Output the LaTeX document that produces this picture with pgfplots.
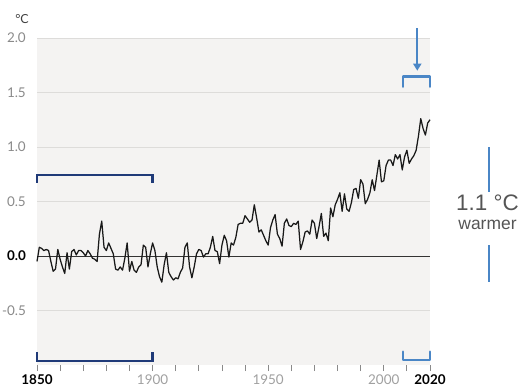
\documentclass[border=0pt]{standalone}
\usepackage{pgfplots}
\pgfplotsset{compat=1.18}
\usepackage{pgfplotstable}
\usetikzlibrary{arrows.meta}
\usepackage{fontspec}
\setmainfont{Lato}
\newfontfamily\arial{Liberation Sans}
\definecolor{bggray}{HTML}{F4F3F2}
\definecolor{gridgray}{HTML}{DDDCDA}
\definecolor{labgray}{HTML}{8A8A8A}
\definecolor{xlabgray}{HTML}{A0A0A0}
\definecolor{navy}{HTML}{1F3A78}
\definecolor{lblue}{HTML}{4A86C6}
\definecolor{txtgray}{HTML}{555555}
\pgfplotstableread{
year anom
1850 -0.05
1851 0.08
1852 0.07
1853 0.05
1854 0.06
1855 0.05
1856 -0.05
1857 -0.14
1858 -0.12
1859 0.06
1860 -0.03
1861 -0.10
1862 -0.16
1863 0.03
1864 -0.12
1865 0.04
1866 0.06
1867 0.01
1868 0.05
1869 0.05
1870 0.03
1871 0.00
1872 0.05
1873 0.02
1874 -0.02
1875 -0.03
1876 -0.05
1877 0.20
1878 0.32
1879 0.08
1880 0.05
1881 0.12
1882 0.07
1883 0.02
1884 -0.12
1885 -0.13
1886 -0.10
1887 -0.13
1888 -0.02
1889 0.12
1890 -0.14
1891 -0.05
1892 -0.13
1893 -0.15
1894 -0.10
1895 -0.08
1896 0.10
1897 0.08
1898 -0.10
1899 0.02
1900 0.12
1901 0.05
1902 -0.10
1903 -0.19
1904 -0.24
1905 -0.08
1906 0.03
1907 -0.15
1908 -0.19
1909 -0.22
1910 -0.20
1911 -0.21
1912 -0.15
1913 -0.11
1914 0.08
1915 0.12
1916 -0.10
1917 -0.20
1918 -0.10
1919 0.02
1920 0.06
1921 0.05
1922 -0.01
1923 0.02
1924 0.02
1925 0.08
1926 0.18
1927 0.05
1928 0.04
1929 -0.07
1930 0.10
1931 0.19
1932 0.14
1933 -0.01
1934 0.12
1935 0.10
1936 0.17
1937 0.29
1938 0.30
1939 0.30
1940 0.37
1941 0.34
1942 0.31
1943 0.33
1944 0.47
1945 0.35
1946 0.22
1947 0.24
1948 0.19
1949 0.14
1950 0.10
1951 0.26
1952 0.33
1953 0.38
1954 0.20
1955 0.16
1956 0.09
1957 0.30
1958 0.34
1959 0.28
1960 0.27
1961 0.30
1962 0.29
1963 0.32
1964 0.06
1965 0.13
1966 0.22
1967 0.23
1968 0.20
1969 0.33
1970 0.30
1971 0.16
1972 0.27
1973 0.39
1974 0.18
1975 0.21
1976 0.14
1977 0.44
1978 0.36
1979 0.47
1980 0.52
1981 0.58
1982 0.41
1983 0.57
1984 0.43
1985 0.41
1986 0.49
1987 0.61
1988 0.62
1989 0.53
1990 0.70
1991 0.66
1992 0.48
1993 0.52
1994 0.58
1995 0.70
1996 0.60
1997 0.74
1998 0.88
1999 0.68
2000 0.69
2001 0.83
2002 0.88
2003 0.88
2004 0.83
2005 0.93
2006 0.89
2007 0.93
2008 0.79
2009 0.91
2010 0.97
2011 0.85
2012 0.89
2013 0.92
2014 0.97
2015 1.10
2016 1.26
2017 1.17
2018 1.11
2019 1.22
2020 1.25
}\temps
\begin{document}
\begin{tikzpicture}[x=1bp,y=1bp]
\path[use as bounding box] (0,0) rectangle (522,387);
\begin{axis}[
  at={(37bp,22bp)}, anchor=south west,
  width=393bp, height=327bp, scale only axis,
  xmin=1850, xmax=2020, ymin=-1.0, ymax=2.0,
  clip=false,
  axis background/.style={fill=bggray},
  axis line style={draw=none},
  xtick={1850,1900,1950,2000,2020},
  xticklabels={\textcolor{black}{\textbf{1850}},1900,1950,2000,\textcolor{black}{\textbf{2020}}},
  minor xtick={1860,1870,1880,1890,1910,1920,1930,1940,1960,1970,1980,1990,2010},
  xtick pos=bottom, ytick pos=left,
  tick align=outside,
  major tick length=6bp, minor tick length=6bp,
  xtick style={labgray, line width=0.8bp},
  ytick style={draw=none},
  ytick={-0.5,0,0.5,1,1.5,2},
  yticklabels={-0.5,\textcolor{black}{\textbf{0.0}},0.5,1.0,1.5,2.0},
  ymajorgrids,
  major grid style={gridgray, line width=0.9bp},
  yticklabel style={text=labgray, font=\fontsize{13.5}{14}\selectfont, inner sep=0pt, anchor=east, xshift=-5bp},
  xticklabel style={text=xlabgray, font=\fontsize{13.5}{14}\selectfont, inner sep=0pt, anchor=south, yshift=-14bp},
]
\draw[black!80, line width=0.8bp] (axis cs:1850,0) -- (axis cs:2020,0);
\addplot[black!90, line width=1.25bp, line join=round, mark=none] table[x=year,y=anom] {\temps};
% navy brackets
\draw[navy, line width=2.2bp, line join=miter] (axis cs:1850,0.67) -- (axis cs:1850,0.743) -- (axis cs:1900,0.743) -- (axis cs:1900,0.67);
\draw[navy, line width=2.2bp, line join=miter] (axis cs:1850,-0.88) -- (axis cs:1850,-0.963) -- (axis cs:1900,-0.963) -- (axis cs:1900,-0.88);
% blue brackets
\draw[lblue, line width=2.6bp, line join=round, line cap=round] (axis cs:2008.4,1.553) -- (axis cs:2008.4,1.645) -- (axis cs:2020,1.645) -- (axis cs:2020,1.553);
\draw[lblue, line width=2.6bp, line join=round, line cap=round] (axis cs:2008.4,-0.878) -- (axis cs:2008.4,-0.954) -- (axis cs:2020,-0.954) -- (axis cs:2020,-0.878);
\draw[lblue, line width=2.4bp, -{Triangle[length=7bp,width=8bp]}] (axis cs:2014.5,2.09) -- (axis cs:2014.5,1.70);
\end{axis}
\node[text=black!75, inner sep=0pt, font=\fontsize{12.5}{13}\selectfont] at (22,367.5) {°C};
\draw[lblue, line width=2bp] (489,240) -- (489,195);
\draw[lblue, line width=2bp] (489,142) -- (489,105);
\node[text=txtgray, inner sep=0pt, font=\arial\fontsize{22.5}{24}\selectfont] at (487.5,184) {1.1 °C};
\node[text=txtgray, inner sep=0pt, font=\arial\fontsize{17.5}{19}\selectfont] at (487.5,162) {warmer};
\end{tikzpicture}
\end{document}
